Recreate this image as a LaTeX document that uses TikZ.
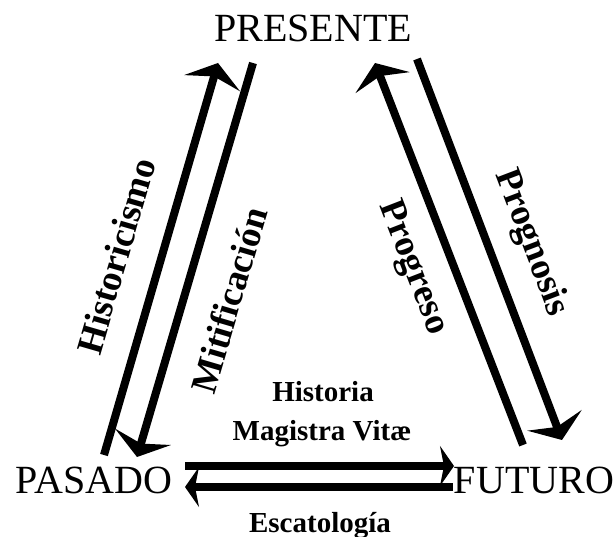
\documentclass[tikz,border=0pt]{standalone}
\usepackage{fontspec}
\setmainfont{Liberation Serif}
\usetikzlibrary{arrows.meta,positioning}

\begin{document}
\begin{tikzpicture}[x=1pt,y=-1pt,
        tiempo/.style={font=\fontsize{40}{44}\selectfont, inner sep=0pt, anchor=base},
        etiqueta/.style={font=\bfseries\fontsize{37}{40}\selectfont, inner sep=0pt},
        plana/.style={font=\bfseries\fontsize{29}{32}\selectfont, inner sep=0pt, anchor=base},
        flecha/.style={line width=8pt, -{Stealth[length=21pt,width=58pt,inset=7pt]}},
        flechah/.style={line width=8pt, -{Stealth[length=14pt,width=40pt,inset=4pt]}}]
        \useasboundingbox (0,0) rectangle (616,537);

        % The three times
        \node[tiempo] (presente) at (313,42) {PRESENTE};
        \node[tiempo] (pasado) at (94,493) {PASADO};
        \node[tiempo] (futuro) at (534,493) {FUTURO};

        % Ends of the arrows
        \coordinate (hist-a) at (104,455);
        \coordinate (hist-b) at (218,63);
        \coordinate (miti-a) at (253,63);
        \coordinate (miti-b) at (137,457);
        \coordinate (prog-a) at (523,445);
        \coordinate (prog-b) at (375,63);
        \coordinate (prno-a) at (417,59);
        \coordinate (prno-b) at (562,440);
        \coordinate (hmv-a) at (185,466);
        \coordinate (hmv-b) at (454,466);
        \coordinate (esc-a) at (453,487);
        \coordinate (esc-b) at (185,487);

        % Pasado <-> Presente
        \draw[flecha] (hist-a) -- (hist-b);
        \draw[flecha] (miti-a) -- (miti-b);
        \node[etiqueta, rotate=73.8] (historicismo) at (116,256) {Historicismo};
        \node[etiqueta, rotate=73.6] (mitificacion) at (229,300) {Mitificación};

        % Futuro <-> Presente
        \draw[flecha] (prog-a) -- (prog-b);
        \draw[flecha] (prno-a) -- (prno-b);
        \node[etiqueta, rotate=-68.8] (progreso) at (412,268) {Progreso};
        \node[etiqueta, rotate=-69.2] (prognosis) at (531,243) {Prognosis};

        % Pasado <-> Futuro
        \draw[flechah] (hmv-a) -- (hmv-b);
        \draw[flechah] (esc-a) -- (esc-b);
        \node[plana] (historia) at (323,402) {Historia};
        \node[plana] (magistra) at (322,440) {Magistra Vitæ};
        \node[plana] (escatologia) at (320,532) {Escatología};
\end{tikzpicture}
\end{document}
